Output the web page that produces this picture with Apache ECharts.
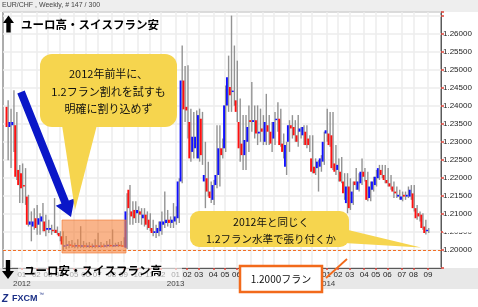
<!DOCTYPE html>
<html><head><meta charset="utf-8">
<script src="https://cdn.jsdelivr.net/npm/echarts@6/dist/echarts.min.js"></script>
<style>
html,body{margin:0;padding:0;background:#fff;}
#wrap{position:relative;width:478px;height:307px;overflow:hidden;}
#topband{position:absolute;left:0;top:0;width:478px;height:12px;background:#eeeeee;}
#botband{position:absolute;left:0;top:268px;width:478px;height:21px;background:#e8e8e8;}
#c{position:absolute;left:0;top:0;width:478px;height:307px;}
</style>
</head><body>
<div id="wrap"><div id="topband"></div><div id="botband"></div><div id="c"></div></div>
<script>
// ---- data ----
const firstWeek = '2011-11-20';   // first category slot (weekly bars)
const slotCount = 151;
const lastLabelledSlot = 147;
// weekly candles [open, close, low, high], first bar = week of 2011-11-27 (slot 1)
const candles = [
[1.2397,1.2341,1.2249,1.2415],[1.2341,1.2355,1.2227,1.2392],[1.2346,1.2355,1.2272,1.2443],[1.2346,1.2203,1.2194,1.2383],
[1.2222,1.2180,1.2130,1.2236],[1.2213,1.2171,1.2130,1.2240],[1.2180,1.2176,1.2125,1.2227],[1.2148,1.2070,1.2065,1.2153],
[1.2070,1.2079,1.2024,1.2107],[1.2065,1.2079,1.2056,1.2116],[1.2088,1.2061,1.2042,1.2125],[1.2070,1.2088,1.2042,1.2102],
[1.2079,1.2093,1.2052,1.2130],[1.2079,1.2052,1.2038,1.2098],[1.2056,1.2061,1.2047,1.2084],[1.2056,1.2061,1.2042,1.2070],
[1.2056,1.2052,1.2047,1.2144],[1.2056,1.2047,1.2042,1.2065],[1.2047,1.2038,1.2024,1.2052],[1.2038,1.2015,1.1998,1.2052],
[1.2010,1.2012,1.2003,1.2039],[1.2012,1.2015,1.2005,1.2025],[1.2015,1.2012,1.2006,1.2028],[1.2012,1.2010,1.2005,1.2020],
[1.2010,1.2013,1.2004,1.2030],[1.2013,1.2010,1.2005,1.2066],[1.2010,1.2012,1.2005,1.2025],[1.2012,1.2010,1.2006,1.2020],
[1.2010,1.2011,1.2005,1.2022],[1.2011,1.2009,1.2005,1.2018],[1.2009,1.2012,1.2005,1.2030],[1.2012,1.2010,1.2006,1.2048],
[1.2010,1.2011,1.2006,1.2022],[1.2011,1.2010,1.2007,1.2018],[1.2010,1.2012,1.2007,1.2025],[1.2012,1.2013,1.2008,1.2030],
[1.2013,1.2011,1.2008,1.2057],[1.2011,1.2012,1.2008,1.2020],[1.2012,1.2013,1.2008,1.2022],[1.2013,1.2012,1.2009,1.2025],
[1.2012,1.2010,1.2008,1.2035],
[1.2006,1.2107,1.2003,1.2157],[1.2167,1.2116,1.2070,1.2180],[1.2107,1.2093,1.2070,1.2135],[1.2111,1.2088,1.2075,1.2135],
[1.2102,1.2111,1.2075,1.2121],[1.2107,1.2098,1.2070,1.2116],[1.2088,1.2098,1.2065,1.2116],[1.2098,1.2070,1.2056,1.2107],
[1.2084,1.2061,1.2052,1.2102],[1.2061,1.2047,1.2038,1.2084],[1.2047,1.2052,1.2033,1.2070],[1.2047,1.2061,1.2038,1.2079],
[1.2052,1.2079,1.2042,1.2107],[1.2070,1.2079,1.2061,1.2162],[1.2075,1.2084,1.2065,1.2111],[1.2084,1.2075,1.2061,1.2093],
[1.2075,1.2084,1.2061,1.2130],[1.2079,1.2093,1.2070,1.2121],[1.2088,1.2190,1.2075,1.2199],[1.2190,1.2470,1.2185,1.2567],
[1.2470,1.2390,1.2355,1.2510],[1.2397,1.2387,1.2309,1.2512],[1.2355,1.2254,1.2245,1.2392],[1.2272,1.2314,1.2254,1.2383],
[1.2282,1.2314,1.2254,1.2387],[1.2254,1.2374,1.2245,1.2392],[1.2364,1.2263,1.2236,1.2383],[1.2190,1.2208,1.2116,1.2300],
[1.2199,1.2162,1.2148,1.2245],[1.2162,1.2144,1.2130,1.2190],[1.2139,1.2180,1.2125,1.2194],[1.2180,1.2208,1.2171,1.2346],
[1.2208,1.2282,1.2176,1.2346],[1.2282,1.2263,1.2254,1.2309],[1.2282,1.2401,1.2272,1.2456],[1.2401,1.2479,1.2383,1.2539],
[1.2452,1.2429,1.2383,1.2650],[1.2438,1.2442,1.2400,1.2567],[1.2415,1.2383,1.2355,1.2525],[1.2355,1.2282,1.2245,1.2420],
[1.2295,1.2263,1.2222,1.2374],[1.2263,1.2305,1.2222,1.2374],[1.2300,1.2341,1.2272,1.2401],[1.2360,1.2355,1.2328,1.2466],
[1.2355,1.2360,1.2309,1.2401],[1.2360,1.2323,1.2291,1.2401],[1.2323,1.2328,1.2300,1.2392],[1.2337,1.2328,1.2291,1.2374],
[1.2300,1.2355,1.2291,1.2433],[1.2346,1.2328,1.2291,1.2374],[1.2328,1.2295,1.2272,1.2355],[1.2309,1.2355,1.2291,1.2383],
[1.2360,1.2364,1.2328,1.2410],[1.2364,1.2291,1.2286,1.2392],[1.2295,1.2272,1.2254,1.2323],[1.2231,1.2291,1.2208,1.2300],
[1.2300,1.2346,1.2272,1.2360],[1.2346,1.2337,1.2309,1.2374],[1.2341,1.2318,1.2300,1.2360],[1.2318,1.2300,1.2286,1.2374],
[1.2328,1.2337,1.2309,1.2341],[1.2318,1.2341,1.2291,1.2346],[1.2328,1.2291,1.2282,1.2346],[1.2309,1.2291,1.2272,1.2318],
[1.2254,1.2217,1.2213,1.2318],[1.2231,1.2213,1.2208,1.2254],[1.2227,1.2245,1.2162,1.2249],[1.2231,1.2254,1.2217,1.2263],
[1.2245,1.2300,1.2236,1.2328],[1.2323,1.2332,1.2300,1.2392],[1.2323,1.2291,1.2286,1.2383],[1.2318,1.2227,1.2222,1.2383],
[1.2240,1.2217,1.2208,1.2291],[1.2222,1.2236,1.2190,1.2254],[1.2217,1.2190,1.2185,1.2258],[1.2190,1.2157,1.2139,1.2213],
[1.2130,1.2176,1.2102,1.2213],[1.2176,1.2116,1.2111,1.2199],[1.2130,1.2162,1.2125,1.2190],[1.2190,1.2180,1.2167,1.2227],
[1.2167,1.2190,1.2162,1.2213],[1.2185,1.2217,1.2180,1.2254],[1.2217,1.2203,1.2190,1.2227],[1.2194,1.2139,1.2135,1.2217],
[1.2144,1.2176,1.2135,1.2190],[1.2167,1.2190,1.2162,1.2203],[1.2180,1.2203,1.2176,1.2222],[1.2199,1.2227,1.2194,1.2236],
[1.2222,1.2208,1.2199,1.2236],[1.2208,1.2194,1.2185,1.2236],[1.2194,1.2185,1.2176,1.2227],[1.2185,1.2176,1.2167,1.2208],
[1.2176,1.2162,1.2144,1.2190],[1.2162,1.2157,1.2144,1.2176],[1.2148,1.2153,1.2139,1.2167],[1.2139,1.2148,1.2135,1.2162],
[1.2153,1.2148,1.2139,1.2162],[1.2148,1.2153,1.2144,1.2176],[1.2148,1.2167,1.2139,1.2180],[1.2157,1.2116,1.2107,1.2180],
[1.2116,1.2088,1.2084,1.2125],[1.2102,1.2093,1.2079,1.2107],[1.2098,1.2061,1.2056,1.2102],[1.2065,1.2047,1.2043,1.2084],
[1.2052,1.2056,1.2047,1.2061]
];
const floorLevel = 1.2;
const yMin = 1.195, yMax = 1.266, yStep = 0.005;

// ---- categories (weekly) ----
const weeks = [];
{
  const t0 = Date.parse(firstWeek + 'T00:00:00Z');
  for (let k = 0; k < slotCount; k++) weeks.push(new Date(t0 + k * 7 * 86400000).toISOString().slice(0, 10));
}
const monthStart = weeks.map((w, k) => k > 0 && k <= lastLabelledSlot && w.slice(5, 7) !== weeks[k - 1].slice(5, 7));
const isMonthStart = (idx) => !!monthStart[idx];

const chart = echarts.init(document.getElementById('c'));
const cjk = '"Noto Sans CJK JP", sans-serif';
const sans = 'Arial, "Liberation Sans", sans-serif';

const option = {
  animation: false,
  grid: { left: 3, top: 12, width: 438, height: 256, show: true, backgroundColor: '#fff', borderColor: '#5a5a5a', borderWidth: 1 },
  xAxis: {
    type: 'category', data: weeks, boundaryGap: true,
    axisLine: { show: true, lineStyle: { color: '#5a5a5a', width: 1 } },
    axisTick: { show: true, interval: isMonthStart, alignWithLabel: true, length: 2, lineStyle: { color: '#e0443a', width: 1.5 } },
    splitLine: { show: true, interval: isMonthStart, alignWithLabel: true, lineStyle: { color: '#ececec', width: 1.5 } },
    axisLabel: {
      interval: isMonthStart, margin: 2,
      formatter: (v) => { const m = v.slice(5, 7); return m === '01' ? '{m|01}\n{y|' + v.slice(0, 4) + '}' : '{m|' + m + '}'; },
      rich: {
        m: { fontSize: 8, fontFamily: sans, color: '#222', lineHeight: 9 },
        y: { fontSize: 8, fontFamily: sans, color: '#444', lineHeight: 10 }
      }
    }
  },
  yAxis: {
    type: 'value', position: 'right', min: yMin, max: yMax, interval: yStep,
    axisLine: { show: true, lineStyle: { color: '#5a5a5a', width: 1 } },
    axisTick: { show: true, length: 3, lineStyle: { color: '#e0443a', width: 1.5 } },
    splitLine: { show: true, lineStyle: { color: '#ececec', width: 1.5 } },
    axisLabel: {
      margin: 2, fontSize: 8, fontFamily: sans, color: '#222',
      formatter: (v) => (v > 1.1999 && v < 1.2601) ? v.toFixed(5) : ''
    }
  },
  series: [{
    type: 'custom',
    data: candles.map((d, i) => [i + 1, d[0], d[1], d[2], d[3]]),
    encode: { x: 0, y: [1, 2, 3, 4] },
    renderItem: function (params, api) {
      const k = api.value(0);
      const o = api.value(1), c = api.value(2), l = api.value(3), h = api.value(4);
      const pH = api.coord([k, h]), pL = api.coord([k, l]);
      const pO = api.coord([k, o]), pC = api.coord([k, c]);
      const x = pH[0];
      let top = Math.min(pO[1], pC[1]);
      let bh = Math.abs(pO[1] - pC[1]);
      if (bh < 1.4) { top -= (1.4 - bh) / 2; bh = 1.4; }
      return {
        type: 'group', children: [
          { type: 'rect', shape: { x: x + 0.1, y: pH[1], width: 1.4, height: Math.max(1, pL[1] - pH[1]) }, style: { fill: '#939393' } },
          { type: 'rect', shape: { x: x - 1.8, y: top, width: 1.9, height: bh }, style: { fill: c >= o ? '#1010ff' : '#ff1010' } }
        ]
      };
    },
    markLine: {
      silent: true, symbol: 'none', label: { show: false },
      lineStyle: { color: '#f07026', type: [3, 2], width: 1 },
      data: [{ yAxis: floorLevel }]
    }
  }],
  graphic: [
    // header
    { type: 'text', x: 2, y: 2, z: 50, style: { text: 'EUR/CHF , Weekly, # 147 / 300', font: '7px ' + sans, fill: '#444' } },
    // up arrow + label
    { type: 'polygon', z: 50, shape: { points: [[3, 23], [14, 23], [8.5, 15.5]] }, style: { fill: '#000' } },
    { type: 'rect', z: 50, shape: { x: 6.3, y: 22.5, width: 4.4, height: 10 }, style: { fill: '#000' } },
    { type: 'text', x: 21, y: 24.5, z: 50, style: { text: 'ユーロ高・スイスフラン安', font: 'bold 11.5px ' + cjk, fill: '#000', verticalAlign: 'middle' } },
    // blue arrow
    { type: 'polygon', z: 50, shape: { points: [[24.7, 90.5], [68.8, 200.6], [74.5, 198.4], [71, 217], [55.7, 205.8], [61.4, 203.6], [17.3, 93.5]] }, style: { fill: '#0a17c8' } },
    // callout 1
    { type: 'rect', z: 50, shape: { x: 40, y: 54, width: 137, height: 73, r: 12 }, style: { fill: '#f6d54e' } },
    { type: 'polygon', z: 50, shape: { points: [[62, 125], [97, 125], [75, 210]] }, style: { fill: '#f6d54e' } },
    { type: 'text', x: 108.5, y: 74, z: 51, style: { text: '2012年前半に、', font: '11px ' + cjk, fill: '#111', align: 'center', verticalAlign: 'middle' } },
    { type: 'text', x: 108.5, y: 91.5, z: 51, style: { text: '1.2フラン割れを試すも', font: '11px ' + cjk, fill: '#111', align: 'center', verticalAlign: 'middle' } },
    { type: 'text', x: 108.5, y: 108.5, z: 51, style: { text: '明確に割り込めず', font: '11px ' + cjk, fill: '#111', align: 'center', verticalAlign: 'middle' } },
    // pinned zone box
    { type: 'rect', z: 50, shape: { x: 62, y: 220, width: 64, height: 33 }, style: { fill: 'rgba(245,130,60,0.6)', stroke: 'rgba(240,120,50,0.8)', lineWidth: 0.8 } },
    // callout 2
    { type: 'rect', z: 50, shape: { x: 190, y: 211, width: 159, height: 36, r: 9 }, style: { fill: '#f6d54e' } },
    { type: 'polygon', z: 50, shape: { points: [[344, 229], [344, 243], [421, 247.5]] }, style: { fill: '#f6d54e' } },
    { type: 'text', x: 271, y: 222, z: 51, style: { text: '2012年と同じく', font: '10.5px ' + cjk, fill: '#111', align: 'center', verticalAlign: 'middle' } },
    { type: 'text', x: 271, y: 239, z: 51, style: { text: '1.2フラン水準で張り付くか', font: '10.5px ' + cjk, fill: '#111', align: 'center', verticalAlign: 'middle' } },
    // hide partially the 1.205 label (current price box)
    { type: 'rect', z: 50, shape: { x: 443, y: 225.5, width: 35, height: 7 }, style: { fill: '#fff' } },
    // bottom-left label
    { type: 'rect', z: 50, shape: { x: 18, y: 262, width: 164, height: 19 }, style: { fill: 'rgba(255,255,255,0.6)' } },
    { type: 'rect', z: 51, shape: { x: 5.8, y: 260, width: 4.4, height: 11 }, style: { fill: '#000' } },
    { type: 'polygon', z: 51, shape: { points: [[2, 271], [14, 271], [8, 279]] }, style: { fill: '#000' } },
    { type: 'text', x: 24, y: 270.5, z: 51, style: { text: 'ユーロ安・スイスフラン高', font: 'bold 11.5px ' + cjk, fill: '#000', verticalAlign: 'middle' } },
    // 1.2000 franc box + connector
    { type: 'line', z: 50, shape: { x1: 326, y1: 278, x2: 347, y2: 259 }, style: { stroke: '#f26a1b', lineWidth: 1.8 } },
    { type: 'rect', z: 50, shape: { x: 240, y: 266, width: 82, height: 26 }, style: { fill: '#fff', stroke: '#f26a1b', lineWidth: 2.5 } },
    { type: 'text', x: 281, y: 279, z: 51, style: { text: '1.2000フラン', font: '10px ' + cjk, fill: '#111', align: 'center', verticalAlign: 'middle' } },
    // FXCM logo
    { type: 'text', x: 2, y: 299, z: 50, style: { text: 'Z', font: 'italic bold 10px ' + sans, fill: '#1b2f86', verticalAlign: 'middle' } },
    { type: 'text', x: 12, y: 299, z: 50, style: { text: 'FXCM', font: 'bold 9px ' + sans, fill: '#1b2f86', verticalAlign: 'middle' } },
    { type: 'text', x: 39, y: 295, z: 50, style: { text: '™', font: '5px ' + sans, fill: '#1b2f86', verticalAlign: 'middle' } }
  ]
};
chart.setOption(option);
</script>
</body></html>
